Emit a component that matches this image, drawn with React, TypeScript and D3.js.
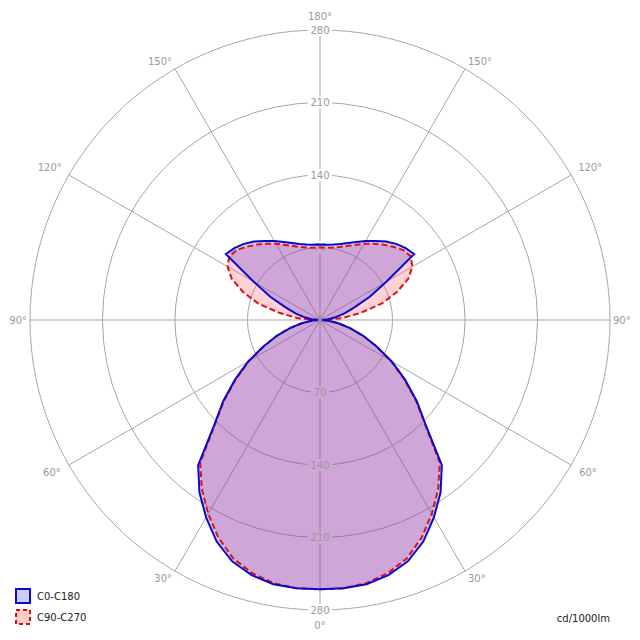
import React from "react";
import * as d3 from "d3";

// gamma angles (degrees, 0 = straight down, 180 = straight up)
const angles = [0, 5, 10, 15, 20, 25, 30, 35, 40, 45, 50, 55, 60, 65, 70, 75, 80, 85, 90,
  95, 100, 105, 110, 115, 120, 125, 130, 135, 140, 145, 150, 155, 160, 165, 170, 175, 180];
// luminous intensity, cd/1000lm
const c0c180 = [260, 260, 259, 255, 248, 236, 220, 203, 183, 145, 122, 100, 80, 60, 44, 30, 18, 8, 2,
  8, 15, 24, 35, 53, 74, 111, 108, 104, 99, 93, 88, 83, 79, 76, 74, 73, 73];
const c90c270 = [260, 260, 258, 253, 245, 232, 216, 199, 180, 144, 121, 99, 79, 60, 44, 30, 18, 8, 3,
  22, 40, 62, 79, 94, 103, 107, 105, 100, 95, 90, 85, 80, 76, 73, 71, 70, 70];
const ringValues = [70, 140, 210, 280];
const gridAngles = [0, 30, 60, 90, 120, 150, 180];
const seriesNames = ["C0-C180", "C90-C270"];
const unitLabel = "cd/1000lm";

const W = 640, H = 640, cx = 320, cy = 320, R = 290;
const rad = Math.PI / 180;
const rScale = d3.scaleLinear().domain([0, 280]).range([0, R]);
const FONT = "DejaVu Sans, Verdana, sans-serif";

function buildPath(vals: number[]) {
  const pts: [number, number][] = [];
  angles.forEach((g, i) => pts.push([Math.PI - g * rad, rScale(vals[i])]));
  for (let i = angles.length - 1; i >= 0; i--) pts.push([Math.PI + angles[i] * rad, rScale(vals[i])]);
  return d3.lineRadial<[number, number]>()
    .angle(d => d[0]).radius(d => d[1])
    .curve(d3.curveLinearClosed)(pts) as string;
}

// label offsets (layout only)
function angleLabelPos(g: number, side: number) {
  const ex = cx + side * R * Math.sin(g * rad);
  const ey = cy + R * Math.cos(g * rad);
  if (g === 0) return { x: ex, y: ey + 15, anchor: "middle" };
  if (g === 180) return { x: ex, y: ey - 14, anchor: "middle" };
  const dxMap: Record<number, number> = { 30: 3, 60: 8, 90: 3, 120: 7, 150: 3 };
  const dyMap: Record<number, number> = { 30: 7, 60: 7, 90: 0, 120: -8, 150: -7 };
  return {
    x: ex + side * dxMap[g],
    y: ey + dyMap[g],
    anchor: side < 0 ? "end" : "start",
  };
}

export default function App() {
  const pathC0 = buildPath(c0c180);
  const pathC90 = buildPath(c90c270);
  const rays = d3.range(0, 360, 30);

  const labelBoxes: { x: number; y: number; w: number; h: number }[] = [];
  ringValues.forEach(v => {
    const w = String(v).length * 6.4 + 5;
    [cy - rScale(v), cy + rScale(v)].forEach(y => labelBoxes.push({ x: cx - w / 2, y: y - 6, w, h: 12 }));
  });

  const angleLabels: { x: number; y: number; anchor: string; text: string }[] = [];
  gridAngles.forEach(g => {
    const sides = g === 0 || g === 180 ? [1] : [-1, 1];
    sides.forEach(s => {
      const p = angleLabelPos(g, s);
      angleLabels.push({ ...p, text: `${g}°` });
    });
  });

  return (
    <svg width={W} height={H} style={{ position: "absolute", left: 0, top: 0, background: "#fff" }}
      fontFamily={FONT}>
      <defs>
        <mask id="gridMask">
          <rect x={0} y={0} width={W} height={H} fill="white" />
          {labelBoxes.map((b, i) => (
            <rect key={i} x={b.x} y={b.y} width={b.w} height={b.h} fill="black" />
          ))}
        </mask>
      </defs>
      <rect x={0} y={0} width={W} height={H} fill="#fff" />
      <g mask="url(#gridMask)" stroke="#a6a6a6" strokeWidth={1} fill="none">
        {ringValues.map(v => (
          <circle key={v} cx={cx} cy={cy} r={rScale(v)} />
        ))}
        {rays.map(a => (
          <line key={a} x1={cx} y1={cy}
            x2={cx + R * Math.sin(a * rad)} y2={cy + R * Math.cos(a * rad)} />
        ))}
      </g>
      <g transform={`translate(${cx},${cy})`}>
        <path d={pathC90} fill="rgb(255,100,120)" fillOpacity={0.3} stroke="none" />
        <path d={pathC0} fill="rgb(60,40,220)" fillOpacity={0.25} stroke="none" />
      </g>
      {ringValues.map(v => (
        <g key={v} fill="#999" fontSize={10} textAnchor="middle">
          <text x={cx} y={cy - rScale(v)} dominantBaseline="central">{v}</text>
          <text x={cx} y={cy + rScale(v)} dominantBaseline="central">{v}</text>
        </g>
      ))}
      {angleLabels.map((l, i) => (
        <text key={i} x={l.x} y={l.y} fill="#999" fontSize={10} textAnchor={l.anchor}
          dominantBaseline="central">{l.text}</text>
      ))}
      <g transform={`translate(${cx},${cy})`}>
        <path d={pathC90} fill="none" stroke="#dd1111" strokeWidth={2} strokeDasharray="6,3" />
        <path d={pathC0} fill="none" stroke="#0a0acc" strokeWidth={2} />
      </g>
      {/* legend */}
      <rect x={16} y={589} width={14} height={14} fill="#ccccff" stroke="#0a0acc" strokeWidth={2} />
      <text x={37} y={596} fontSize={10} fill="#222" dominantBaseline="central">{seriesNames[0]}</text>
      <rect x={16} y={610} width={14} height={14} fill="#ffcccc" stroke="#cc1111" strokeWidth={2}
        strokeDasharray="4,3" />
      <text x={37} y={617} fontSize={10} fill="#222" dominantBaseline="central">{seriesNames[1]}</text>
      <text x={610} y={618} fontSize={10} fill="#222" textAnchor="end" dominantBaseline="central">{unitLabel}</text>
    </svg>
  );
}
